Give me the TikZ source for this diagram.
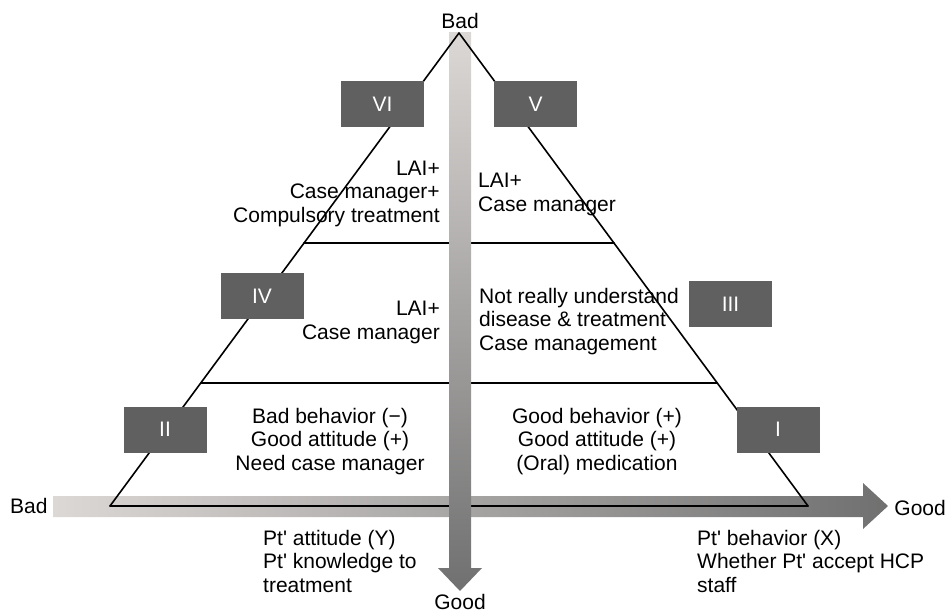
\documentclass[tikz,border=0pt]{standalone}
\usepackage{fontspec}
\setmainfont{Liberation Sans}
\usetikzlibrary{calc}
\definecolor{boxgray}{HTML}{606060}
\definecolor{arrowlight}{HTML}{DCD8D6}
\definecolor{arrowdark}{HTML}{707070}
\newcommand{\apos}{\textquotesingle}

\begin{document}
\begin{tikzpicture}[x=1pt,y=-1pt,
    numbox/.style={fill=boxgray,text=white,minimum width=83pt,minimum height=46pt,inner sep=0pt,font=\fontsize{21}{24}\selectfont},
    lbl/.style={inner sep=0pt,font=\fontsize{21}{23.5}\selectfont},
    edge/.style={line width=1.6pt,line cap=round,line join=round}]
        \useasboundingbox (0,0) rectangle (946,613);

        % 三角形的顶点
        \coordinate (apex) at (459,33);
        \coordinate (bl) at (110,506);
        \coordinate (br) at (808,506);
        \coordinate (d1l) at ($(apex)!0.444!(bl)$);
        \coordinate (d1r) at ($(apex)!0.444!(br)$);
        \coordinate (d2l) at ($(apex)!0.740!(bl)$);
        \coordinate (d2r) at ($(apex)!0.740!(br)$);

        % 横轴箭头
        \shade[left color=arrowlight,right color=arrowdark] (53,496) -- (863,496) -- (863,483) -- (888,506) -- (863,529) -- (863,517) -- (53,517) -- cycle;

        % 底边和分隔线
        \draw[edge] (bl) -- (br);
        \draw[edge] (d1l) -- (d1r);
        \draw[edge] (d2l) -- (d2r);

        % 纵轴箭头
        \shade[top color=arrowlight,bottom color=arrowdark] (449,32) -- (471,32) -- (471,568) -- (482,568) -- (460,591) -- (438,568) -- (449,568) -- cycle;

        % 两条斜边
        \draw[edge] (bl) -- (apex) -- (br);

        % 编号方框
        \node[numbox] (n6) at (382.5,104) {VI};
        \node[numbox] (n5) at (535.5,104) {V};
        \node[numbox] (n4) at (262,296) {IV};
        \node[numbox] (n3) at (730.5,304) {III};
        \node[numbox] (n2) at (165,429.5) {II};
        \node[numbox] (n1) at (778,429.5) {I};

        % 各区域说明 (base 为最后一行)
        \node[lbl,anchor=base east,align=right] (t6) at (440,222) {LAI+\\Case manager+\\Compulsory treatment};
        \node[lbl,anchor=base west,align=left] (t5) at (478,211) {LAI+\\Case manager};
        \node[lbl,anchor=base east,align=right] (t4) at (440,339) {LAI+\\Case manager};
        \node[lbl,anchor=base west,align=left] (t3) at (479,350) {Not really understand\\disease \& treatment\\Case management};
        \node[lbl,anchor=base,align=center] (t2) at (330,470) {Bad behavior (−)\\Good attitude (+)\\Need case manager};
        \node[lbl,anchor=base,align=center] (t1) at (597,470) {Good behavior (+)\\Good attitude (+)\\(Oral) medication};

        % 坐标轴标注
        \node[lbl,anchor=base] (ybad) at (460,28) {Bad};
        \node[lbl,anchor=base] (ygood) at (460,609) {Good};
        \node[lbl,anchor=base west] (xbad) at (10,513) {Bad};
        \node[lbl,anchor=base east] (xgood) at (946,515) {Good};
        \node[lbl,anchor=base west,align=left] (ylab) at (263,592) {Pt\apos{} attitude (Y)\\Pt\apos{} knowledge to\\treatment};
        \node[lbl,anchor=base west,align=left] (xlab) at (697,592) {Pt\apos{} behavior (X)\\Whether Pt\apos{} accept HCP\\staff};
    \end{tikzpicture}
\end{document}
